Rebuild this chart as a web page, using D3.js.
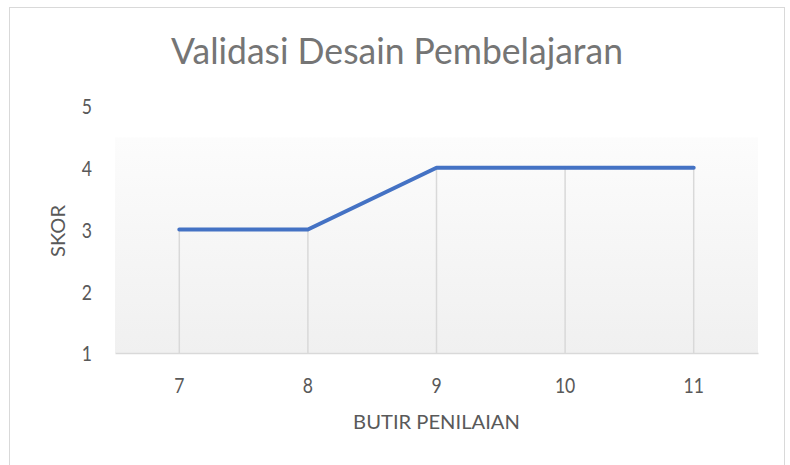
<!DOCTYPE html>
<html>
<head>
<meta charset="utf-8">
<script src="https://cdn.jsdelivr.net/npm/d3@7"></script>
<style>
  html, body { margin: 0; padding: 0; background: #ffffff; }
  svg { display: block; }
  text { font-family: Lato, "Open Sans", sans-serif; }
</style>
</head>
<body>
<svg id="chart" width="790" height="465"></svg>
<script>
// ---- data ----
const categories = ["7", "8", "9", "10", "11"];
const values = [3, 3, 4, 4, 4];
const yTicks = [1, 2, 3, 4, 5];
const chartTitle = "Validasi Desain Pembelajaran";
const xTitle = "BUTIR PENILAIAN";
const yTitle = "SKOR";

// ---- layout ----
const W = 790, H = 465;
const plot = { left: 115, right: 758, top: 106, bottom: 353 };
const sx = 0.80; // horizontal condensing of text (original is vertically stretched)

const svg = d3.select("#chart");

// outer frame
svg.append("rect")
  .attr("x", 9.5).attr("y", 7.5)
  .attr("width", 775).attr("height", 470)
  .attr("fill", "#ffffff")
  .attr("stroke", "#d9d9d9").attr("stroke-width", 1);

const x = d3.scaleBand().domain(categories).range([plot.left, plot.right]);
const y = d3.scaleLinear().domain([1, 5]).range([plot.bottom, plot.top]);

// plot area gradient
const defs = svg.append("defs");
const grad = defs.append("linearGradient").attr("id", "pa")
  .attr("x1", 0).attr("y1", 0).attr("x2", 0).attr("y2", 1);
grad.append("stop").attr("offset", 0).attr("stop-color", "#ffffff");
grad.append("stop").attr("offset", 0.127).attr("stop-color", "#ffffff");
grad.append("stop").attr("offset", 0.128).attr("stop-color", "#fcfcfc");
grad.append("stop").attr("offset", 1).attr("stop-color", "#f0f0f0");

svg.append("rect")
  .attr("x", plot.left).attr("y", y(5))
  .attr("width", plot.right - plot.left).attr("height", y(1) - y(5))
  .attr("fill", "url(#pa)");

// drop lines
const pts = categories.map((c, i) => ({ c, v: values[i] }));
svg.append("g").selectAll("line").data(pts).join("line")
  .attr("x1", d => x(d.c) + x.bandwidth() / 2)
  .attr("x2", d => x(d.c) + x.bandwidth() / 2)
  .attr("y1", d => y(d.v))
  .attr("y2", y(1))
  .attr("stroke", "#d9d9d9").attr("stroke-width", 1.5);

// x axis
const xAxis = svg.append("g")
  .attr("transform", `translate(0,${plot.bottom})`)
  .call(d3.axisBottom(x).tickSize(0).tickPadding(0));
xAxis.select(".domain").attr("stroke", "#d9d9d9").attr("stroke-width", 1.5);
xAxis.selectAll("text")
  .attr("y", 0).attr("dy", 0)
  .attr("transform", `translate(0,40) scale(${sx},1)`)
  .attr("font-size", 22)
  .attr("font-family", "Lato, 'Open Sans', sans-serif")
  .attr("fill", "#595959");

// y axis labels
const yAxis = svg.append("g")
  .attr("transform", `translate(${plot.left},0)`)
  .call(d3.axisLeft(y).tickValues(yTicks).tickSize(0).tickFormat(d3.format("d")));
yAxis.select(".domain").remove();
yAxis.selectAll("text")
  .attr("x", 0).attr("dy", "0.36em")
  .attr("transform", `translate(-23,0) scale(${sx},1)`)
  .attr("font-size", 22)
  .attr("font-family", "Lato, 'Open Sans', sans-serif")
  .attr("fill", "#595959");

// line
const line = d3.line()
  .x(d => x(d.c) + x.bandwidth() / 2)
  .y(d => y(d.v));
svg.append("path").datum(pts)
  .attr("d", line)
  .attr("fill", "none")
  .attr("stroke", "#4472c4")
  .attr("stroke-width", 4)
  .attr("stroke-linecap", "round")
  .attr("stroke-linejoin", "round");

// helper to place condensed text fitted to width
function fitText(txt, cx, baseline, fs, targetW, color, rotate) {
  const g = svg.append("g");
  const t = g.append("text")
    .attr("text-anchor", "middle")
    .attr("font-size", fs)
    .attr("fill", color)
    .text(txt);
  const w = t.node().getComputedTextLength();
  const s = targetW / w;
  const rot = rotate ? ` rotate(${rotate})` : "";
  g.attr("transform", `translate(${cx},${baseline})${rot} scale(${s},1)`);
  return g;
}

// title
fitText(chartTitle, 397, 64, 37, 452, "#757575");
// x axis title
fitText(xTitle, 436.5, 429, 20, 167, "#595959");
// y axis title (rotated)
fitText(yTitle, 65, 231, 20, 52, "#595959", -90);
</script>
</body>
</html>
